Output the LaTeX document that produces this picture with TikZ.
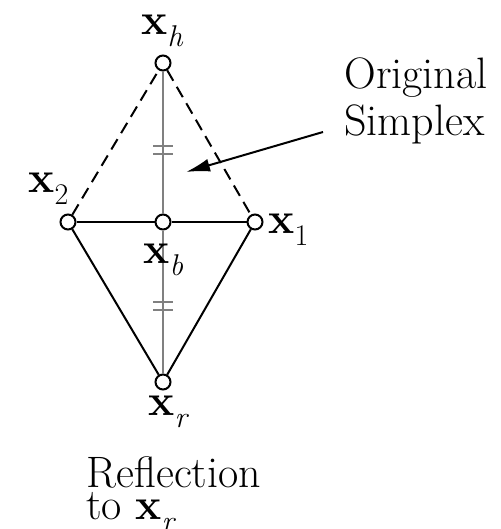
\documentclass[tikz,border=0pt]{standalone}
\usepackage{fontspec}
\usetikzlibrary{arrows.meta}
\newcommand{\ptx}[1]{\textbf{x}\raisebox{-6pt}{\fontsize{15}{16}\selectfont #1}}
\tikzset{
  vert/.style={circle,draw,fill=white,line width=1pt,minimum size=7.5pt,inner sep=0pt},
  lbl/.style={anchor=base west,inner sep=0pt,font=\fontsize{22}{26}\selectfont},
  side/.style={line width=1pt},
  oldside/.style={line width=1pt,dash pattern=on 6pt off 3.5pt},
  axisline/.style={line width=1pt,draw=gray},
  tickline/.style={line width=1pt,draw=gray},
}
\begin{document}
\begin{tikzpicture}[x=0.5pt,y=-0.5pt,>={Latex[length=12pt,width=6.5pt]}]
	\useasboundingbox (0,0) rectangle (501,529);
	% points of the simplex
	\node[vert] (xh) at (163,63) {};
	\node[vert] (x2) at (68,222) {};
	\node[vert] (xb) at (163,222) {};
	\node[vert] (x1) at (255,222) {};
	\node[vert] (xr) at (163,382) {};
	% lines
	\draw[axisline] (xh) -- coordinate[pos=.55] (t1) (xb);
	\draw[axisline] (xb) -- coordinate[pos=.53] (t2) (xr);
	\foreach \t in {t1,t2}{
		\draw[tickline] ([shift={(-10,-4)}]\t) -- ++(20,0);
		\draw[tickline] ([shift={(-10,4)}]\t) -- ++(20,0);
	}
	\draw[oldside] (x2) -- (xh) -- (x1);
	\draw[side] (x2) -- (xb) -- (x1);
	\draw[side] (x2) -- (xr) -- (x1);
	% labels
	\node[lbl] (lh) at (141,35) {\ptx{\textit{h}}};
	\node[lbl] (l2) at (28,192) {\ptx{2}};
	\node[lbl] (l1) at (268,233) {\ptx{1}};
	\node[lbl] (lb) at (143,263) {\ptx{\textit{b}}};
	\node[lbl] (lr) at (148,415) {\ptx{\textit{r}}};
	\node[lbl] (orig) at (344,89) {Original};
	\node[lbl] (simp) at (344,136) {Simplex};
	\node[lbl] (refl) at (86,487) {Reflection};
	\node[lbl] (tox) at (86,519) {to \ptx{\textit{r}}};
	\coordinate (atail) at (323,132);
	\coordinate (ahead) at (186,172);
	\draw[->,line width=1pt] (atail) -- (ahead);
\end{tikzpicture}
\end{document}
